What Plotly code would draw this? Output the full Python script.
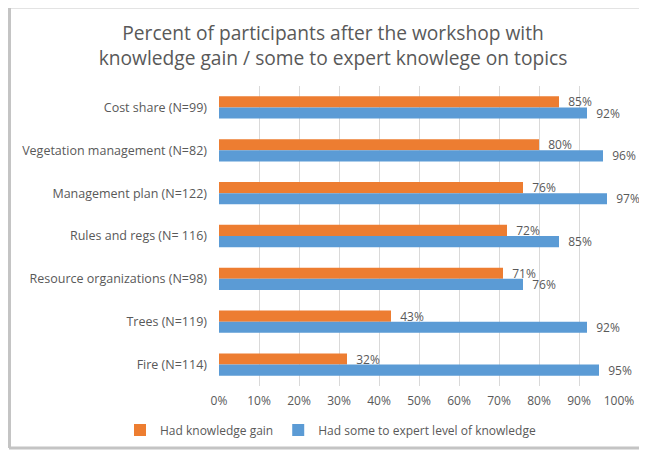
import plotly.graph_objects as go

categories = ["Cost share (N=99)", "Vegetation management (N=82)", "Management plan (N=122)",
              "Rules and regs (N= 116)", "Resource organizations (N=98)", "Trees (N=119)", "Fire (N=114)"]
knowledge_gain = [85, 80, 76, 72, 71, 43, 32]
some_to_expert = [92, 96, 97, 85, 76, 92, 95]
series_names = ["Had knowledge gain", "Had some to expert level of knowledge"]
x_ticks = [0, 10, 20, 30, 40, 50, 60, 70, 80, 90, 100]
x_tick_labels = [f"{t}%" for t in x_ticks]

ORANGE = "#ED7D31"
BLUE = "#5B9BD5"
GRAY = "#595959"
FONT = "Open Sans"

fig = go.Figure()
for name, vals, col in [(series_names[0], knowledge_gain, ORANGE), (series_names[1], some_to_expert, BLUE)]:
    fig.add_trace(go.Bar(
        y=categories, x=vals, name=name, orientation="h",
        marker=dict(color=col, line=dict(width=0)),
        text=[f"  {v}%" for v in vals], textposition="outside",
        textfont=dict(size=12, color=GRAY, family=FONT),
        constraintext="none",
        cliponaxis=False,
    ))

# page body has an 8px margin, so the figure is 8px smaller each way
W, H = 639, 443
L, R, T, B = 211, 28, 78, 65
pw, ph = W - L - R, H - T - B

def px(xp):
    return (xp - L) / pw

def py(yp):
    return (H - B - yp) / ph

shapes = [
    dict(type="line", xref="paper", yref="paper", x0=px(1), x1=px(660), y0=py(0.5), y1=py(0.5),
         line=dict(color="#e3e3e3", width=1)),
    dict(type="line", xref="paper", yref="paper", x0=px(1.5), x1=px(1.5), y0=py(0), y1=py(440),
         line=dict(color="#c4c4c4", width=3)),
    dict(type="line", xref="paper", yref="paper", x0=px(1), x1=px(660), y0=py(440), y1=py(440),
         line=dict(color="#c4c4c4", width=3)),
]

fig.update_layout(
    width=W, height=H,
    margin=dict(l=L, r=R, t=T, b=B, autoexpand=False),
    paper_bgcolor="white", plot_bgcolor="white",
    barmode="group", bargap=0.48, bargroupgap=0,
    title=dict(text="Percent of participants after the workshop with<br>knowledge gain / some to expert knowlege on topics",
               x=325 / W, xanchor="center", xref="container",
               y=1 - 32 / H, yanchor="top", yref="container",
               font=dict(size=19.2, color=GRAY, family=FONT)),
    font=dict(family=FONT, color=GRAY, size=12),
    xaxis=dict(range=[0, 100], tickvals=x_ticks, ticktext=x_tick_labels, showgrid=True,
               gridcolor="#d9d9d9", gridwidth=1, zeroline=False, showline=False,
               tickfont=dict(size=12, color=GRAY), ticklabelstandoff=6, automargin=False),
    yaxis=dict(autorange="reversed", showgrid=False, showline=False, zeroline=False,
               tickfont=dict(size=12.5, color=GRAY), ticklabelstandoff=11, automargin=False),
    legend=dict(orientation="h", x=px(112), xanchor="left", y=py(422), yanchor="middle",
                font=dict(size=12, color=GRAY), itemwidth=30, traceorder="normal"),
    shapes=shapes,
    showlegend=True,
)

fig.write_html("out.html")
